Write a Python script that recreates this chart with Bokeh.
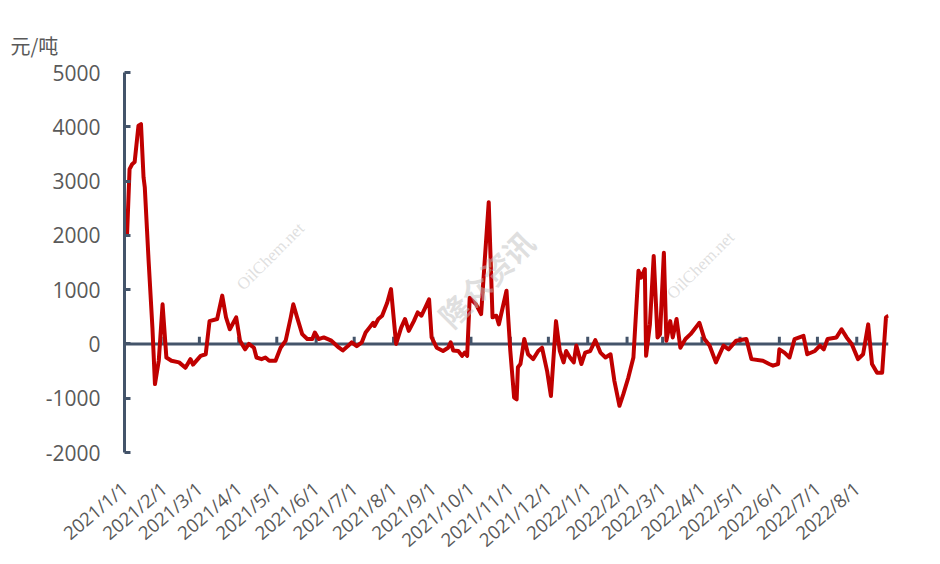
import math
import pandas as pd
from bokeh.plotting import figure
from bokeh.models import (Range1d, FixedTicker, Span, Label, DatetimeAxis)
from bokeh.embed import file_html
from bokeh.resources import INLINE

# ---- data ----
dates = [
    "2021-01-03", "2021-01-05", "2021-01-07", "2021-01-09", "2021-01-12", "2021-01-14",
    "2021-01-16", "2021-01-17", "2021-01-20", "2021-01-23", "2021-01-25", "2021-01-28",
    "2021-01-31", "2021-02-03", "2021-02-07", "2021-02-13", "2021-02-18", "2021-02-22",
    "2021-02-24", "2021-03-02", "2021-03-06", "2021-03-09", "2021-03-15", "2021-03-19",
    "2021-03-22", "2021-03-25", "2021-03-30", "2021-04-02", "2021-04-06", "2021-04-09",
    "2021-04-13", "2021-04-15", "2021-04-19", "2021-04-22", "2021-04-25", "2021-04-30",
    "2021-05-04", "2021-05-08", "2021-05-12", "2021-05-14", "2021-05-17", "2021-05-21",
    "2021-05-25", "2021-05-29", "2021-05-31", "2021-06-03", "2021-06-07", "2021-06-13",
    "2021-06-19", "2021-06-22", "2021-06-26", "2021-06-29", "2021-07-03", "2021-07-07",
    "2021-07-10", "2021-07-13", "2021-07-16", "2021-07-17", "2021-07-20", "2021-07-23",
    "2021-07-27", "2021-07-30", "2021-08-03", "2021-08-07", "2021-08-10", "2021-08-13",
    "2021-08-17", "2021-08-20", "2021-08-23", "2021-08-26", "2021-08-29", "2021-08-31",
    "2021-09-04", "2021-09-09", "2021-09-13", "2021-09-15", "2021-09-17", "2021-09-21",
    "2021-09-24", "2021-09-26", "2021-09-28", "2021-09-30", "2021-10-05", "2021-10-09",
    "2021-10-12", "2021-10-15", "2021-10-18", "2021-10-21", "2021-10-23", "2021-10-26",
    "2021-10-29", "2021-11-01", "2021-11-04", "2021-11-06", "2021-11-07", "2021-11-09",
    "2021-11-12", "2021-11-15", "2021-11-19", "2021-11-23", "2021-11-26", "2021-11-30",
    "2021-12-03", "2021-12-07", "2021-12-10", "2021-12-13", "2021-12-15", "2021-12-18",
    "2021-12-21", "2021-12-23", "2021-12-27", "2021-12-30", "2022-01-03", "2022-01-07",
    "2022-01-11", "2022-01-15", "2022-01-19", "2022-01-22", "2022-01-26", "2022-01-29",
    "2022-02-02", "2022-02-06", "2022-02-10", "2022-02-12", "2022-02-15", "2022-02-16",
    "2022-02-19", "2022-02-22", "2022-02-25", "2022-02-27", "2022-03-02", "2022-03-04",
    "2022-03-07", "2022-03-09", "2022-03-12", "2022-03-15", "2022-03-19", "2022-03-23",
    "2022-03-25", "2022-03-29", "2022-03-30", "2022-04-03", "2022-04-07", "2022-04-12",
    "2022-04-18", "2022-04-22", "2022-04-28", "2022-05-06", "2022-05-10", "2022-05-19",
    "2022-05-24", "2022-05-27", "2022-05-31", "2022-06-01", "2022-06-05", "2022-06-09",
    "2022-06-13", "2022-06-20", "2022-06-23", "2022-06-29", "2022-07-03", "2022-07-06",
    "2022-07-09", "2022-07-16", "2022-07-20", "2022-07-24", "2022-07-28", "2022-08-02",
    "2022-08-06", "2022-08-10", "2022-08-13", "2022-08-17", "2022-08-21", "2022-08-24",
    "2022-08-26",
]
spread = [
    2000, 3220, 3310, 3350, 4020, 4050,
    3070, 2880, 1530, 300, -740, -310,
    730, -250, -310, -340, -440, -280,
    -380, -220, -190, 420, 460, 890,
    490, 270, 490, 60, -100, 0,
    -70, -250, -280, -250, -310, -310,
    -70, 60, 490, 730, 490, 180,
    90, 90, 210, 90, 120, 60,
    -70, -120, -40, 30, -40, 30,
    210, 300, 390, 330, 460, 520,
    760, 1010, 0, 300, 460, 240,
    420, 580, 520, 670, 820, 120,
    -70, -130, -70, 30, -120, -130,
    -220, -160, -220, 850, 730, 550,
    1590, 2610, 490, 520, 360, 670,
    980, -130, -990, -1020, -430, -370,
    90, -190, -280, -130, -70, -500,
    -960, 420, -130, -340, -130, -250,
    -340, -30, -370, -160, -130, 70,
    -160, -250, -190, -680, -1140, -930,
    -620, -250, 1350, 1220, 1380, -220,
    360, 1620, 120, 180, 1680, 60,
    420, 120, 460, -70, 90, 180,
    240, 360, 390, 90, -30, -340,
    -30, -100, 60, 90, -280, -310,
    -370, -400, -370, -100, -160, -250,
    90, 150, -190, -130, -30, -100,
    90, 120, 270, 120, 0, -280,
    -190, 360, -370, -530, -530, 490,
    520,
]
month_ticks = [
    "2021-01-01", "2021-02-01", "2021-03-01", "2021-04-01", "2021-05-01", "2021-06-01",
    "2021-07-01", "2021-08-01", "2021-09-01", "2021-10-01", "2021-11-01", "2021-12-01",
    "2022-01-01", "2022-02-01", "2022-03-01", "2022-04-01", "2022-05-01", "2022-06-01",
    "2022-07-01", "2022-08-01",
]
month_labels = [
    "2021/1/1", "2021/2/1", "2021/3/1", "2021/4/1", "2021/5/1", "2021/6/1",
    "2021/7/1", "2021/8/1", "2021/9/1", "2021/10/1", "2021/11/1", "2021/12/1",
    "2022/1/1", "2022/2/1", "2022/3/1", "2022/4/1", "2022/5/1", "2022/6/1",
    "2022/7/1", "2022/8/1",
]
y_ticks = [-2000, -1000, 0, 1000, 2000, 3000, 4000, 5000]
y_tick_labels = ["-2000", "-1000", "0", "1000", "2000", "3000", "4000", "5000"]
unit_label = "元/吨"

# ---- styling ----
AXIS_COLOR = "#44546A"
LINE_COLOR = "#C00000"
TEXT_COLOR = "#595959"
FONT = "Open Sans"

W, H = 940, 564
FRAME_LEFT, FRAME_TOP, FRAME_RIGHT, FRAME_BOTTOM = 124, 72, 888, 452

x = pd.to_datetime(dates)
mt = pd.to_datetime(month_ticks)
mt_ms = [int(t.value // 10**6) for t in mt]

p = figure(width=W, height=H, output_backend="svg", toolbar_location=None,
           x_axis_type=None, y_axis_location="left",
           x_range=Range1d(pd.Timestamp("2021-01-01"), pd.Timestamp("2022-08-26")),
           y_range=Range1d(-2000, 5000),
           min_border_left=FRAME_LEFT, min_border_right=W - FRAME_RIGHT,
           min_border_top=FRAME_TOP, min_border_bottom=H - FRAME_BOTTOM)
p.outline_line_color = None
p.xgrid.visible = False
p.ygrid.visible = False
p.background_fill_color = "white"
p.border_fill_color = "white"

# unit label as a left-aligned title, shifted over the y tick labels
p.title.text = unit_label
p.title.align = "left"
p.title.offset = 10 - FRAME_LEFT
p.title.standoff = 26
p.title.text_font = "Noto Sans CJK SC"
p.title.text_font_style = "normal"
p.title.text_font_size = "20px"
p.title.text_color = TEXT_COLOR

# y axis
ya = p.yaxis[0]
ya.ticker = FixedTicker(ticks=y_ticks)
ya.major_label_overrides = {t: s for t, s in zip(y_ticks, y_tick_labels)}
ya.axis_line_color = AXIS_COLOR
ya.axis_line_width = 3
ya.major_tick_line_color = AXIS_COLOR
ya.major_tick_line_width = 3
ya.major_tick_in = 6
ya.major_tick_out = 0
ya.minor_tick_line_color = None
ya.minor_tick_in = 0
ya.minor_tick_out = 0
ya.major_label_standoff = 24
ya.major_label_text_font = FONT
ya.major_label_text_font_size = "21px"
ya.major_label_text_color = TEXT_COLOR

# x axis (labels only, below)
xa = DatetimeAxis()
xa.ticker = FixedTicker(ticks=mt_ms)
xa.major_label_overrides = {ms: lab for ms, lab in zip(mt_ms, month_labels)}
xa.axis_line_color = None
xa.major_tick_line_color = None
xa.minor_tick_line_color = None
xa.major_tick_in = 0
xa.major_tick_out = 0
xa.minor_tick_in = 0
xa.minor_tick_out = 0
xa.major_label_orientation = 0.70
xa.major_label_standoff = 33
xa.major_label_text_font = FONT
xa.major_label_text_font_size = "18.5px"
xa.major_label_text_color = TEXT_COLOR
p.add_layout(xa, "below")

# zero line with month ticks
zero = Span(location=0, dimension="width", line_color=AXIS_COLOR, line_width=3, level="underlay")
p.add_layout(zero)
p.segment(x0=mt, y0=[0] * len(mt), x1=mt, y1=[130] * len(mt),
          line_color=AXIS_COLOR, line_width=3)

# data line
p.line(x, spread, line_color=LINE_COLOR, line_width=4, line_join="round")

# watermarks inside the plot area (page positions; Label screen units are
# measured from the frame's bottom-left corner, y upward)
def fx(px):
    return px - FRAME_LEFT

def fy(py):
    return FRAME_BOTTOM - py

wm_cn = [(485, 278)]
wm_en = [(270, 256), (700, 265)]
for (px, py) in wm_cn:
    p.add_layout(Label(x=fx(px), y=fy(py), x_units="screen", y_units="screen",
                       text="隆众资讯", angle=math.pi / 4, text_align="center",
                       text_baseline="middle", text_font="Noto Sans CJK SC",
                       text_font_style="bold", text_font_size="30px",
                       text_color="#c0c0c0", text_alpha=0.5, level="overlay"))
for (px, py) in wm_en:
    p.add_layout(Label(x=fx(px), y=fy(py), x_units="screen", y_units="screen",
                       text="OilChem.net", angle=math.pi / 4, text_align="center",
                       text_baseline="middle", text_font="Liberation Serif",
                       text_font_size="17px",
                       text_color="#c0c0c0", text_alpha=0.5, level="overlay"))

open("out.html", "w").write(file_html(p, INLINE))
